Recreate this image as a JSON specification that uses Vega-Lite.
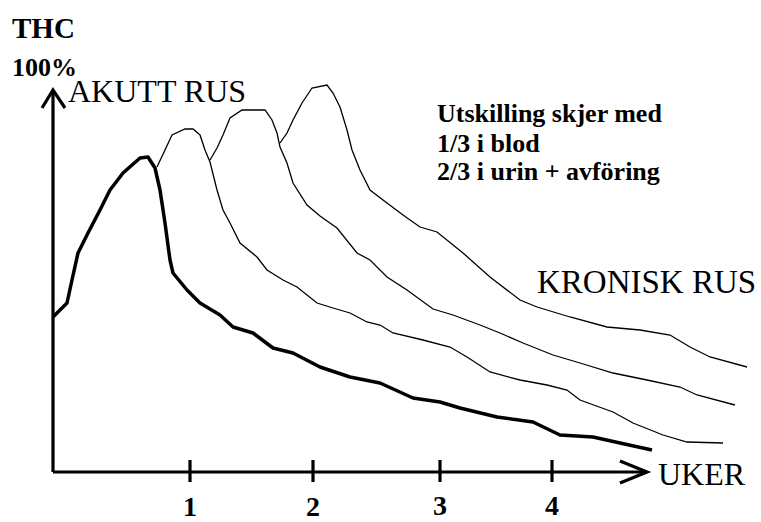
{
  "$schema": "https://vega.github.io/schema/vega-lite/v6.json",
  "width": 761,
  "height": 522,
  "autosize": {"type": "none"},
  "padding": 0,
  "background": "white",
  "config": {"view": {"stroke": null}},
  "datasets": {
    "kurver": [
      {"serie": "akutt", "uke": 0, "thc": 38.75},
      {"serie": "akutt", "uke": 0.112, "thc": 42.25},
      {"serie": "akutt", "uke": 0.152, "thc": 48},
      {"serie": "akutt", "uke": 0.2, "thc": 54.75},
      {"serie": "akutt", "uke": 0.28, "thc": 59.75},
      {"serie": "akutt", "uke": 0.376, "thc": 65.5},
      {"serie": "akutt", "uke": 0.456, "thc": 70.5},
      {"serie": "akutt", "uke": 0.56, "thc": 74.75},
      {"serie": "akutt", "uke": 0.696, "thc": 78.5},
      {"serie": "akutt", "uke": 0.76, "thc": 78.75},
      {"serie": "akutt", "uke": 0.816, "thc": 76},
      {"serie": "akutt", "uke": 0.856, "thc": 70.5},
      {"serie": "akutt", "uke": 0.896, "thc": 62.25},
      {"serie": "akutt", "uke": 0.936, "thc": 53},
      {"serie": "akutt", "uke": 0.96, "thc": 49.75},
      {"serie": "akutt", "uke": 1.072, "thc": 45.5},
      {"serie": "akutt", "uke": 1.176, "thc": 42.25},
      {"serie": "akutt", "uke": 1.336, "thc": 39.25},
      {"serie": "akutt", "uke": 1.44, "thc": 36.25},
      {"serie": "akutt", "uke": 1.6, "thc": 34.75},
      {"serie": "akutt", "uke": 1.76, "thc": 31},
      {"serie": "akutt", "uke": 1.92, "thc": 29.75},
      {"serie": "akutt", "uke": 2.136, "thc": 26.25},
      {"serie": "akutt", "uke": 2.376, "thc": 23.75},
      {"serie": "akutt", "uke": 2.616, "thc": 22.25},
      {"serie": "akutt", "uke": 2.88, "thc": 18.5},
      {"serie": "akutt", "uke": 3.096, "thc": 17.5},
      {"serie": "akutt", "uke": 3.256, "thc": 16},
      {"serie": "akutt", "uke": 3.552, "thc": 13.75},
      {"serie": "akutt", "uke": 3.84, "thc": 12.5},
      {"serie": "akutt", "uke": 4.056, "thc": 9.25},
      {"serie": "akutt", "uke": 4.32, "thc": 8.75},
      {"serie": "akutt", "uke": 4.536, "thc": 7.25},
      {"serie": "akutt", "uke": 4.792, "thc": 5.5},

      {"serie": "kronisk1", "uke": 0.832, "thc": 76.25},
      {"serie": "kronisk1", "uke": 0.896, "thc": 80.5},
      {"serie": "kronisk1", "uke": 0.952, "thc": 84.25},
      {"serie": "kronisk1", "uke": 1.056, "thc": 85.75},
      {"serie": "kronisk1", "uke": 1.12, "thc": 85.75},
      {"serie": "kronisk1", "uke": 1.176, "thc": 84.25},
      {"serie": "kronisk1", "uke": 1.216, "thc": 80.5},
      {"serie": "kronisk1", "uke": 1.256, "thc": 77.5},
      {"serie": "kronisk1", "uke": 1.312, "thc": 70.5},
      {"serie": "kronisk1", "uke": 1.36, "thc": 65.5},
      {"serie": "kronisk1", "uke": 1.416, "thc": 62.25},
      {"serie": "kronisk1", "uke": 1.496, "thc": 57.25},
      {"serie": "kronisk1", "uke": 1.632, "thc": 53.75},
      {"serie": "kronisk1", "uke": 1.712, "thc": 50.5},
      {"serie": "kronisk1", "uke": 1.84, "thc": 48},
      {"serie": "kronisk1", "uke": 1.952, "thc": 46.25},
      {"serie": "kronisk1", "uke": 2.112, "thc": 42.25},
      {"serie": "kronisk1", "uke": 2.24, "thc": 41},
      {"serie": "kronisk1", "uke": 2.376, "thc": 39.75},
      {"serie": "kronisk1", "uke": 2.512, "thc": 37.5},
      {"serie": "kronisk1", "uke": 2.616, "thc": 36.75},
      {"serie": "kronisk1", "uke": 2.72, "thc": 34.75},
      {"serie": "kronisk1", "uke": 2.96, "thc": 33},
      {"serie": "kronisk1", "uke": 3.176, "thc": 31.25},
      {"serie": "kronisk1", "uke": 3.312, "thc": 28.75},
      {"serie": "kronisk1", "uke": 3.496, "thc": 25},
      {"serie": "kronisk1", "uke": 3.736, "thc": 23},
      {"serie": "kronisk1", "uke": 3.952, "thc": 21.75},
      {"serie": "kronisk1", "uke": 4.112, "thc": 20.5},
      {"serie": "kronisk1", "uke": 4.216, "thc": 18},
      {"serie": "kronisk1", "uke": 4.48, "thc": 15},
      {"serie": "kronisk1", "uke": 4.64, "thc": 12.25},
      {"serie": "kronisk1", "uke": 4.88, "thc": 9.25},
      {"serie": "kronisk1", "uke": 5.072, "thc": 7.5},
      {"serie": "kronisk1", "uke": 5.36, "thc": 7.25},

      {"serie": "kronisk2", "uke": 1.256, "thc": 78},
      {"serie": "kronisk2", "uke": 1.312, "thc": 81},
      {"serie": "kronisk2", "uke": 1.36, "thc": 84.25},
      {"serie": "kronisk2", "uke": 1.416, "thc": 88.5},
      {"serie": "kronisk2", "uke": 1.512, "thc": 90.5},
      {"serie": "kronisk2", "uke": 1.696, "thc": 90.5},
      {"serie": "kronisk2", "uke": 1.752, "thc": 88},
      {"serie": "kronisk2", "uke": 1.792, "thc": 84.75},
      {"serie": "kronisk2", "uke": 1.816, "thc": 81.25},
      {"serie": "kronisk2", "uke": 1.872, "thc": 77.25},
      {"serie": "kronisk2", "uke": 1.92, "thc": 72.25},
      {"serie": "kronisk2", "uke": 2.032, "thc": 66.75},
      {"serie": "kronisk2", "uke": 2.136, "thc": 64},
      {"serie": "kronisk2", "uke": 2.272, "thc": 61},
      {"serie": "kronisk2", "uke": 2.432, "thc": 54.75},
      {"serie": "kronisk2", "uke": 2.536, "thc": 53},
      {"serie": "kronisk2", "uke": 2.672, "thc": 48.75},
      {"serie": "kronisk2", "uke": 2.832, "thc": 45.5},
      {"serie": "kronisk2", "uke": 3.04, "thc": 40.75},
      {"serie": "kronisk2", "uke": 3.2, "thc": 39.25},
      {"serie": "kronisk2", "uke": 3.416, "thc": 36.75},
      {"serie": "kronisk2", "uke": 3.576, "thc": 34.75},
      {"serie": "kronisk2", "uke": 3.76, "thc": 32.25},
      {"serie": "kronisk2", "uke": 4.0, "thc": 29.25},
      {"serie": "kronisk2", "uke": 4.216, "thc": 27.25},
      {"serie": "kronisk2", "uke": 4.48, "thc": 24.75},
      {"serie": "kronisk2", "uke": 4.752, "thc": 23},
      {"serie": "kronisk2", "uke": 5.016, "thc": 21.25},
      {"serie": "kronisk2", "uke": 5.152, "thc": 19.25},
      {"serie": "kronisk2", "uke": 5.456, "thc": 16.75},

      {"serie": "kronisk3", "uke": 1.816, "thc": 82.25},
      {"serie": "kronisk3", "uke": 1.872, "thc": 84.75},
      {"serie": "kronisk3", "uke": 1.92, "thc": 88},
      {"serie": "kronisk3", "uke": 1.992, "thc": 92.25},
      {"serie": "kronisk3", "uke": 2.072, "thc": 96},
      {"serie": "kronisk3", "uke": 2.192, "thc": 96.75},
      {"serie": "kronisk3", "uke": 2.24, "thc": 94.75},
      {"serie": "kronisk3", "uke": 2.296, "thc": 91.25},
      {"serie": "kronisk3", "uke": 2.352, "thc": 85.5},
      {"serie": "kronisk3", "uke": 2.392, "thc": 80.5},
      {"serie": "kronisk3", "uke": 2.456, "thc": 75.5},
      {"serie": "kronisk3", "uke": 2.536, "thc": 70.5},
      {"serie": "kronisk3", "uke": 2.64, "thc": 68},
      {"serie": "kronisk3", "uke": 2.8, "thc": 64.25},
      {"serie": "kronisk3", "uke": 2.936, "thc": 61.25},
      {"serie": "kronisk3", "uke": 3.072, "thc": 60},
      {"serie": "kronisk3", "uke": 3.28, "thc": 54.75},
      {"serie": "kronisk3", "uke": 3.496, "thc": 48.75},
      {"serie": "kronisk3", "uke": 3.736, "thc": 43},
      {"serie": "kronisk3", "uke": 3.872, "thc": 41.25},
      {"serie": "kronisk3", "uke": 4.136, "thc": 38.75},
      {"serie": "kronisk3", "uke": 4.432, "thc": 36.25},
      {"serie": "kronisk3", "uke": 4.696, "thc": 35.5},
      {"serie": "kronisk3", "uke": 4.936, "thc": 34.25},
      {"serie": "kronisk3", "uke": 5.096, "thc": 31.25},
      {"serie": "kronisk3", "uke": 5.256, "thc": 28.75},
      {"serie": "kronisk3", "uke": 5.552, "thc": 26.25}
    ],
    "akser": [
      {"del": "y-akse", "n": 1, "uke": 0, "thc": 0},
      {"del": "y-akse", "n": 2, "uke": 0, "thc": 95.5},
      {"del": "x-akse", "n": 1, "uke": 0, "thc": 0},
      {"del": "x-akse", "n": 2, "uke": 4.752, "thc": 0},
      {"del": "y-pil", "n": 1, "uke": -0.088, "thc": 91},
      {"del": "y-pil", "n": 2, "uke": 0, "thc": 95.5},
      {"del": "y-pil", "n": 3, "uke": 0.096, "thc": 91},
      {"del": "x-pil", "n": 1, "uke": 4.536, "thc": 2.75},
      {"del": "x-pil", "n": 2, "uke": 4.752, "thc": 0},
      {"del": "x-pil", "n": 3, "uke": 4.536, "thc": -2.75},
      {"del": "tikk1", "n": 1, "uke": 1.096, "thc": 3},
      {"del": "tikk1", "n": 2, "uke": 1.096, "thc": -2.5},
      {"del": "tikk2", "n": 1, "uke": 2.08, "thc": 3},
      {"del": "tikk2", "n": 2, "uke": 2.08, "thc": -2.5},
      {"del": "tikk3", "n": 1, "uke": 3.096, "thc": 3},
      {"del": "tikk3", "n": 2, "uke": 3.096, "thc": -2.5},
      {"del": "tikk4", "n": 1, "uke": 3.992, "thc": 3},
      {"del": "tikk4", "n": 2, "uke": 3.992, "thc": -2.5}
    ],
    "tekster": [
      {"gruppe": "tittel", "tekst": "THC", "uke": -0.328, "thc": 110.7},
      {"gruppe": "fet26", "tekst": "100%", "uke": -0.328, "thc": 100.95},
      {"gruppe": "fet26", "tekst": "Utskilling skjer med", "uke": 3.072, "thc": 89.45},
      {"gruppe": "fet26", "tekst": "1/3 i blod", "uke": 3.072, "thc": 81.95},
      {"gruppe": "fet26", "tekst": "2/3 i urin + avföring", "uke": 3.072, "thc": 74.95},
      {"gruppe": "normal32", "tekst": "AKUTT RUS", "uke": 0.12, "thc": 94.9},
      {"gruppe": "normal32", "tekst": "UKER", "uke": 4.84, "thc": -0.85},
      {"gruppe": "normal33", "tekst": "KRONISK RUS", "uke": 3.872, "thc": 47.2},
      {"gruppe": "tikk", "tekst": "1", "uke": 1.096, "thc": -8.9},
      {"gruppe": "tikk", "tekst": "2", "uke": 2.08, "thc": -8.9},
      {"gruppe": "tikk", "tekst": "3", "uke": 3.096, "thc": -8.65},
      {"gruppe": "tikk", "tekst": "4", "uke": 3.992, "thc": -8.65}
    ]
  },
  "layer": [
    {
      "data": {"name": "kurver"},
      "transform": [{"filter": "datum.serie != 'akutt'"}],
      "mark": {"type": "line", "color": "black", "strokeWidth": 1.3},
      "encoding": {
        "x": {"field": "uke", "type": "quantitative", "scale": {"domain": [-0.424, 5.664], "nice": false, "zero": false}, "axis": null},
        "y": {"field": "thc", "type": "quantitative", "scale": {"domain": [-12.5, 118], "nice": false, "zero": false}, "axis": null},
        "detail": {"field": "serie"}
      }
    },
    {
      "data": {"name": "kurver"},
      "transform": [{"filter": "datum.serie == 'akutt'"}],
      "mark": {"type": "line", "color": "black", "strokeWidth": 3.5, "strokeJoin": "round"},
      "encoding": {
        "x": {"field": "uke", "type": "quantitative"},
        "y": {"field": "thc", "type": "quantitative"}
      }
    },
    {
      "data": {"name": "akser"},
      "mark": {"type": "line", "color": "black", "strokeWidth": 3.2, "strokeJoin": "miter"},
      "encoding": {
        "x": {"field": "uke", "type": "quantitative"},
        "y": {"field": "thc", "type": "quantitative"},
        "detail": {"field": "del"},
        "order": {"field": "n"}
      }
    },
    {
      "data": {"name": "tekster"},
      "transform": [{"filter": "datum.gruppe == 'tittel'"}],
      "mark": {"type": "text", "fontSize": 29, "align": "left", "font": "Liberation Serif", "fontWeight": "bold"},
      "encoding": {
        "x": {"field": "uke", "type": "quantitative"},
        "y": {"field": "thc", "type": "quantitative"},
        "text": {"field": "tekst"}
      }
    },
    {
      "data": {"name": "tekster"},
      "transform": [{"filter": "datum.gruppe == 'fet26'"}],
      "mark": {"type": "text", "fontSize": 26, "align": "left", "font": "Liberation Serif", "fontWeight": "bold"},
      "encoding": {
        "x": {"field": "uke", "type": "quantitative"},
        "y": {"field": "thc", "type": "quantitative"},
        "text": {"field": "tekst"}
      }
    },
    {
      "data": {"name": "tekster"},
      "transform": [{"filter": "datum.gruppe == 'normal32'"}],
      "mark": {"type": "text", "fontSize": 32, "align": "left", "font": "Liberation Serif"},
      "encoding": {
        "x": {"field": "uke", "type": "quantitative"},
        "y": {"field": "thc", "type": "quantitative"},
        "text": {"field": "tekst"}
      }
    },
    {
      "data": {"name": "tekster"},
      "transform": [{"filter": "datum.gruppe == 'normal33'"}],
      "mark": {"type": "text", "fontSize": 33, "align": "left", "font": "Liberation Serif"},
      "encoding": {
        "x": {"field": "uke", "type": "quantitative"},
        "y": {"field": "thc", "type": "quantitative"},
        "text": {"field": "tekst"}
      }
    },
    {
      "data": {"name": "tekster"},
      "transform": [{"filter": "datum.gruppe == 'tikk'"}],
      "mark": {"type": "text", "fontSize": 28, "align": "center", "font": "Liberation Serif", "fontWeight": "bold"},
      "encoding": {
        "x": {"field": "uke", "type": "quantitative"},
        "y": {"field": "thc", "type": "quantitative"},
        "text": {"field": "tekst"}
      }
    }
  ]
}
